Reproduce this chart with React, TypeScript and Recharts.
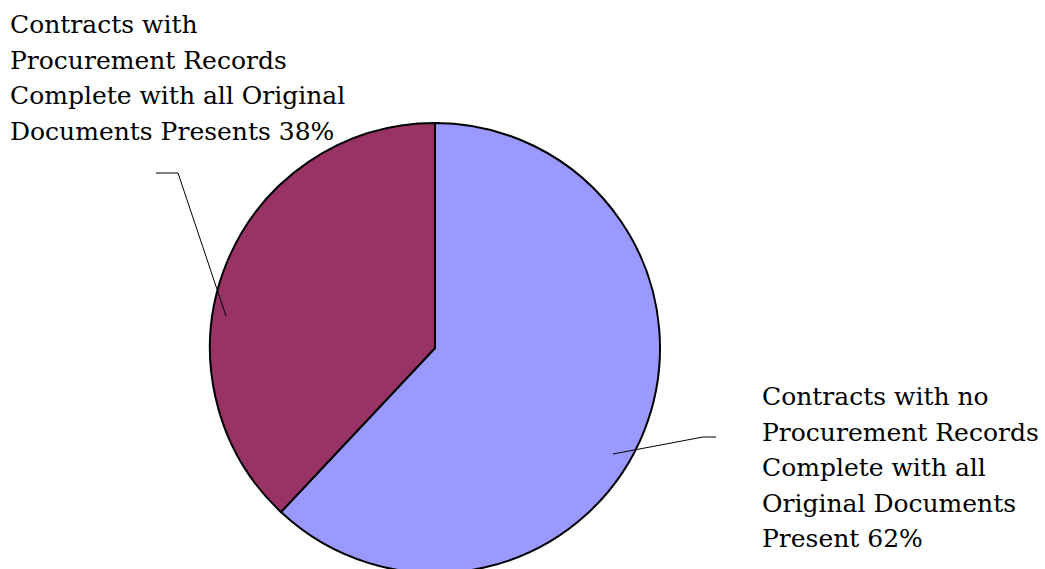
import React from "react";
import { PieChart, Pie, Cell } from "recharts";

const categories = [
  "Contracts with no Procurement Records Complete with all Original Documents Present",
  "Contracts with Procurement Records Complete with all Original Documents Presents",
];
const shares = [62, 38];
const labelLines = [
  ["Contracts with no", "Procurement Records", "Complete with all", "Original Documents", "Present 62%"],
  ["Contracts with", "Procurement Records", "Complete with all Original", "Documents Presents 38%"],
];
const colors = ["#9999FF", "#993366"];

const data = categories.map((name, i) => ({ name, value: shares[i] }));

// leader lines & text blocks, page coordinates
const layout = [
  { tip: [613, 454], elbow: [703, 437], end: [716, 437], textX: 762, textY: 405 },
  { tip: [226, 316], elbow: [178, 173], end: [156, 173], textX: 10, textY: 33 },
];

const FONT = "'Palatino Linotype', 'Book Antiqua', Palatino, 'DejaVu Serif', serif";
const LINE_H = 35.5;

function renderLabel(props: any) {
  const { index } = props;
  const l = layout[index];
  return (
    <g key={`lbl-${index}`}>
      <polyline
        points={`${l.tip[0]},${l.tip[1]} ${l.elbow[0]},${l.elbow[1]} ${l.end[0]},${l.end[1]}`}
        fill="none"
        stroke="#000"
        strokeWidth={1}
      />
      <text x={l.textX} y={l.textY} fontFamily={FONT} fontSize={25} fill="#000">
        {labelLines[index].map((t, j) => (
          <tspan key={j} x={l.textX} y={l.textY + j * LINE_H}>
            {t}
          </tspan>
        ))}
      </text>
    </g>
  );
}

export default function App() {
  return (
    <div style={{ position: "absolute", left: 0, top: 0, background: "#fff" }}>
      <PieChart width={1045} height={569} margin={{ top: 0, right: 0, bottom: 0, left: 0 }}>
        <Pie
          data={data}
          dataKey="value"
          nameKey="name"
          cx={435}
          cy={348}
          outerRadius={225}
          startAngle={90}
          endAngle={-270}
          stroke="#000"
          strokeWidth={2}
          label={renderLabel}
          labelLine={false}
          isAnimationActive={false}
        >
          {data.map((d, i) => (
            <Cell key={d.name} fill={colors[i]} />
          ))}
        </Pie>
      </PieChart>
    </div>
  );
}
